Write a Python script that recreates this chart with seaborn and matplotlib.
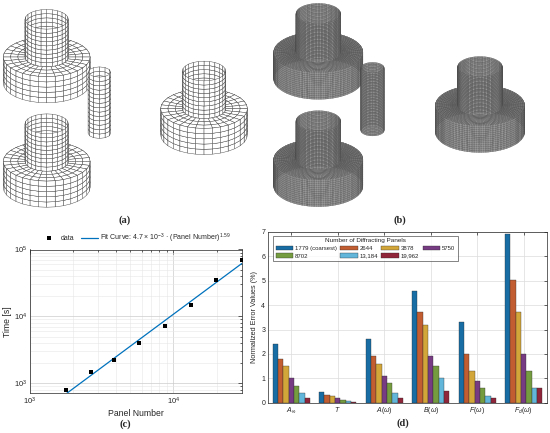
import numpy as np
import pandas as pd
import matplotlib
matplotlib.use("Agg")
import matplotlib.pyplot as plt
import seaborn as sns
from mpl_toolkits.mplot3d import proj3d
from mpl_toolkits.mplot3d.art3d import Poly3DCollection

# ------------------------------------------------------------------ data
panel_numbers = [1779, 2644, 3878, 5750, 8702, 13184, 19962, 29950]
compute_times = [790, 1460, 2230, 4050, 7180, 14760, 35600, 70100]
fit_coefficient = 4.7e-3
fit_exponent = 1.59
fit_label = "Fit Curve: 4.7 \u00d7 10$^{-3}$ \u00b7 (Panel Number)$^{1.59}$"

quantity_labels = [r"$A_{\infty}$", r"$T$", r"$A(\omega)$", r"$B(\omega)$",
                   r"$F(\omega)$", r"$F_{d}(\omega)$"]
mesh_labels = ["1779 (coarsest)", "2644", "3878", "5750", "8702", "13,184", "19,962"]
err_1779 = [2.40, 0.43, 2.60, 4.60, 3.32, 6.93]
err_2644 = [1.80, 0.32, 1.90, 3.70, 2.00, 5.02]
err_3878 = [1.50, 0.26, 1.60, 3.20, 1.30, 3.72]
err_5750 = [1.00, 0.19, 1.10, 1.90, 0.90, 2.00]
err_8702 = [0.70, 0.13, 0.80, 1.50, 0.60, 1.30]
err_13184 = [0.40, 0.07, 0.40, 1.00, 0.29, 0.59]
err_19962 = [0.20, 0.03, 0.20, 0.50, 0.19, 0.59]
error_series = [err_1779, err_2644, err_3878, err_5750, err_8702, err_13184, err_19962]

# body geometry (world units, column radius = 1)
column_radius = 1.0
column_draft = 1.95
flange_radius = 2.0
flange_height = 1.35
rod_radius = 0.52
rod_draft = 3.17
big_body_xy = [(0.0, 0.0), (0.0, -10.6), (7.25, -5.25)]
rod_xy = [(2.43, -5.35)]

matlab_colors = ["#0072BD", "#D95319", "#EDB120", "#7E2F8E", "#77AC30", "#4DBEEE", "#A2142F"]
axis_color = "#262626"

# ------------------------------------------------------------------ style
sns.set_theme(style="white")
plt.rcParams.update({
    "font.family": ["Liberation Sans", "DejaVu Sans"],
    "mathtext.fontset": "custom",
    "mathtext.rm": "Liberation Sans",
    "mathtext.it": "Liberation Sans:italic",
    "mathtext.bf": "Liberation Sans:bold",
})

FIG_W, FIG_H, DPI = 5.5, 4.33, 100
H_PX = FIG_H * DPI
W_PX = FIG_W * DPI
fig = plt.figure(figsize=(FIG_W, FIG_H), dpi=DPI)
fig.patch.set_facecolor("white")
ELEV = 27.0


# ------------------------------------------------------------------ 3D meshes
def side_quads(cx, cy, r, z_top, z_bot, nt, nz):
    th = np.linspace(0, 2 * np.pi, nt + 1)
    zz = np.linspace(z_top, z_bot, nz + 1)
    T0, Z0 = np.meshgrid(th[:-1], zz[:-1], indexing="ij")
    T1, Z1 = np.meshgrid(th[1:], zz[1:], indexing="ij")

    def P(t, z):
        return np.stack([cx + r * np.cos(t), cy + r * np.sin(t), z], -1)

    q = np.stack([P(T0, Z0), P(T1, Z0), P(T1, Z1), P(T0, Z1)], axis=-2)
    return q.reshape(-1, 4, 3)


def ring_quads(cx, cy, r0, r1, z, nt, nr):
    th = np.linspace(0, 2 * np.pi, nt + 1)
    rr = np.linspace(r0, r1, nr + 1)
    T0, R0 = np.meshgrid(th[:-1], rr[:-1], indexing="ij")
    T1, R1 = np.meshgrid(th[1:], rr[1:], indexing="ij")

    def P(t, r):
        return np.stack([cx + r * np.cos(t), cy + r * np.sin(t), np.full_like(t, z)], -1)

    q = np.stack([P(T0, R0), P(T1, R0), P(T1, R1), P(T0, R1)], axis=-2)
    return q.reshape(-1, 4, 3)


def scene_quads(m):
    parts = []
    for cx, cy in big_body_xy:
        parts.append(side_quads(cx, cy, column_radius, 0.0, -column_draft, m["col_nt"], m["col_nz"]))
        parts.append(ring_quads(cx, cy, column_radius, flange_radius, -column_draft, m["fl_nt"], m["ring_nr"]))
        parts.append(side_quads(cx, cy, flange_radius, -column_draft,
                                -column_draft - flange_height, m["fl_nt"], m["fl_nz"]))
    for cx, cy in rod_xy:
        parts.append(side_quads(cx, cy, rod_radius, 0.0, -rod_draft, m["rod_nt"], m["rod_nz"]))
    return np.concatenate(parts)


def fit_view(ax, limits, target, scale):
    (x0, x1), (y0, y1), (z0, z1) = limits
    ranges = [x1 - x0, y1 - y0, z1 - z0]
    ax.set_xlim3d(x0, x1)
    ax.set_ylim3d(y0, y1)
    ax.set_zlim3d(z0, z1)
    zoom = 1.0
    ax.set_box_aspect(ranges, zoom=zoom)

    def measure():
        fig.canvas.draw()
        M = ax.get_proj()
        xs, ys, _ = proj3d.proj_transform(np.array([0.0, 1.0]), np.array([0.0, 0.0]),
                                          np.array([0.0, 0.0]), M)
        pix = ax.transData.transform(np.column_stack([xs, ys]))
        return pix[0], float(np.hypot(*(pix[1] - pix[0])))

    p0, s = measure()
    zoom *= scale / s
    ax.set_box_aspect(ranges, zoom=zoom)
    p0, s = measure()
    dx = target[0] - p0[0]
    dy = (H_PX - target[1]) - p0[1]
    cz = np.cos(np.deg2rad(ELEV))
    ax.set_xlim3d(x0 - dx / s, x1 - dx / s)
    ax.set_zlim3d(z0 - dy / (s * cz), z1 - dy / (s * cz))


limits3d = [(-4.0, 12.0), (-14.0, 4.0), (-5.0, 1.0)]

ax_a = fig.add_axes([0.0, 1 - 215 / H_PX, 272 / W_PX, 215 / H_PX], projection="3d", proj_type="ortho")
ax_b = fig.add_axes([275 / W_PX, 1 - 215 / H_PX, 275 / W_PX, 215 / H_PX], projection="3d", proj_type="ortho")
for ax in (ax_a, ax_b):
    ax.view_init(elev=ELEV, azim=-90)
    ax.set_axis_off()
    ax.set_facecolor("none")

fit_view(ax_a, limits3d, (46.7, 19.3), 21.7)
fit_view(ax_b, limits3d, (318.3, 13.5), 22.3)

mesh_a = dict(col_nt=24, col_nz=9, fl_nt=32, fl_nz=5, ring_nr=3, rod_nt=12, rod_nz=14)
mesh_b = dict(col_nt=96, col_nz=28, fl_nt=160, fl_nz=14, ring_nr=12, rod_nt=48, rod_nz=40)

coll_a = Poly3DCollection(scene_quads(mesh_a), facecolors="white", edgecolors="#3c3c3c", linewidths=0.3)
ax_a.add_collection3d(coll_a, autolim=False)
coll_a.set_clip_on(False)

coll_b = Poly3DCollection(scene_quads(mesh_b), facecolors="#969696", edgecolors="#474747", linewidths=0.18)
ax_b.add_collection3d(coll_b, autolim=False)
coll_b.set_clip_on(False)

# ------------------------------------------------------------------ (c) timing
ax_c = fig.add_axes([30 / W_PX, (H_PX - 393.3) / H_PX, 211.7 / W_PX, 143.8 / H_PX])
df_time = pd.DataFrame({"Panel Number": panel_numbers, "Time [s]": compute_times})
df_time["fit"] = fit_coefficient * df_time["Panel Number"] ** fit_exponent
sns.lineplot(data=df_time, x="Panel Number", y="fit", color="#0072BD", linewidth=0.9,
             ax=ax_c, label=fit_label)
sns.scatterplot(data=df_time, x="Panel Number", y="Time [s]", marker="s", s=7, color="black",
                linewidth=0, ax=ax_c, label="data", zorder=3)
ax_c.set_xscale("log")
ax_c.set_yscale("log")
ax_c.set_xlim(1000, 29950)
ax_c.set_ylim(708, 1e5)
ax_c.set_xlabel("Panel Number", fontsize=6.2, color=axis_color, labelpad=1.5)
ax_c.set_ylabel("Time [s]", fontsize=6.2, color=axis_color, labelpad=1)
ax_c.grid(which="major", color="#cccccc", linewidth=0.5)
ax_c.grid(which="minor", color="#e6e6e6", linewidth=0.4)
ax_c.tick_params(which="both", direction="in", top=True, right=True, labelsize=5.5,
                 colors=axis_color, width=0.5, pad=2)
ax_c.tick_params(which="major", length=3)
ax_c.tick_params(which="minor", length=1.5)
for sp in ax_c.spines.values():
    sp.set_color(axis_color)
    sp.set_linewidth(0.5)
h, l = ax_c.get_legend_handles_labels()
ax_c.legend(h[::-1], l[::-1], loc="lower center", bbox_to_anchor=(0.5, 1.0), ncol=2,
            frameon=False, fontsize=5, handlelength=2.4, columnspacing=1.0,
            handletextpad=0.4, borderaxespad=0.3)

# ------------------------------------------------------------------ (d) errors
ax_d = fig.add_axes([268 / W_PX, (H_PX - 402.7) / H_PX, 279 / W_PX, 170.7 / H_PX])
rows = []
for lab, vals in zip(mesh_labels, error_series):
    for q, v in zip(quantity_labels, vals):
        rows.append({"quantity": q, "mesh": lab, "error": v})
df_err = pd.DataFrame(rows)
sns.barplot(data=df_err, x="quantity", y="error", hue="mesh", order=quantity_labels,
            hue_order=mesh_labels, palette=matlab_colors, width=0.8, errorbar=None,
            edgecolor="#2a2a2a", linewidth=0.25, ax=ax_d, zorder=2)
ax_d.set_xlim(-0.5, 5.5)
ax_d.set_ylim(0, 7)
ax_d.set_yticks(range(0, 8))
ax_d.set_xlabel("")
ax_d.set_ylabel("Normalized Error Values (%)", fontsize=5.2, color=axis_color, labelpad=2)
ax_d.grid(True, color="#dcdcdc", linewidth=0.5, zorder=0)
ax_d.set_axisbelow(True)
ax_d.tick_params(which="both", direction="in", top=True, right=True, labelsize=5,
                 colors=axis_color, width=0.5, length=2.5, pad=2)
for sp in ax_d.spines.values():
    sp.set_color(axis_color)
    sp.set_linewidth(0.5)
h, l = ax_d.get_legend_handles_labels()
order = [0, 4, 1, 5, 2, 6, 3]
leg = ax_d.legend([h[i] for i in order], [l[i] for i in order], ncol=4,
                  title="Number of Diffracting Panels", loc="upper left",
                  bbox_to_anchor=(0.018, 0.978), borderaxespad=0, fontsize=4.3,
                  title_fontsize=4.6, frameon=True, fancybox=False, edgecolor=axis_color,
                  handlelength=2.9, handleheight=0.9, columnspacing=0.6,
                  handletextpad=0.3, labelspacing=0.35, borderpad=0.45)
leg.get_frame().set_linewidth(0.5)

# ------------------------------------------------------------------ sub labels
for txt, x, y in [("(a)", 125, 220), ("(b)", 400, 220), ("(c)", 125, 424), ("(d)", 403, 423)]:
    fig.text(x / W_PX, 1 - y / H_PX, txt, ha="center", va="center",
             fontfamily=["Liberation Serif", "DejaVu Serif"], fontweight="bold", fontsize=7.5)

fig.savefig("out.png", dpi=DPI, facecolor="white")
